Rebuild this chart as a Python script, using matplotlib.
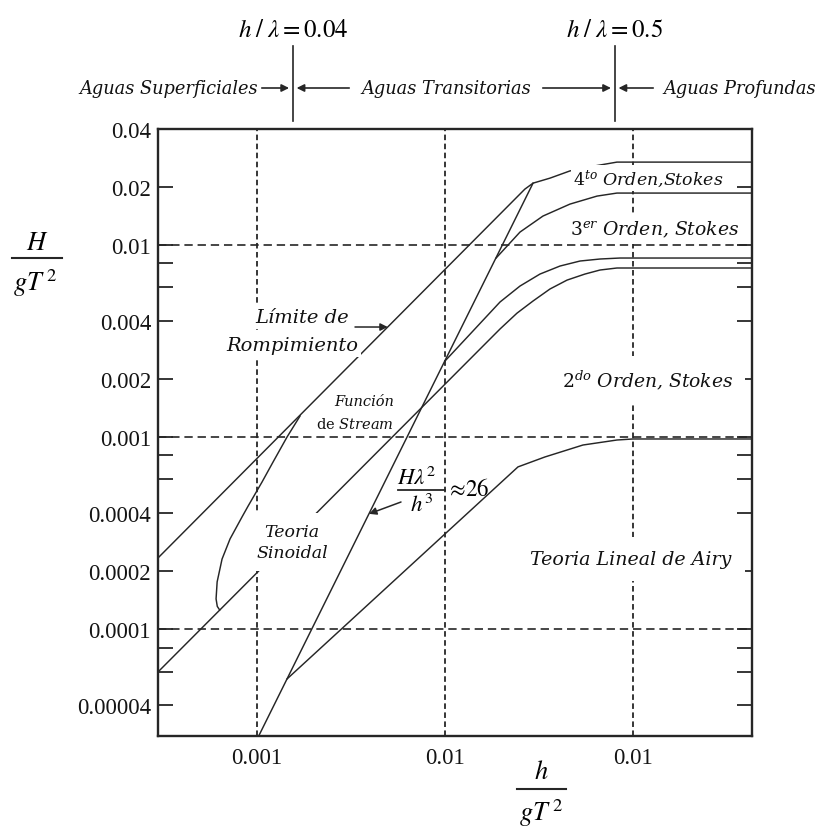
import matplotlib
matplotlib.use('Agg')
import matplotlib.pyplot as plt
from matplotlib.ticker import NullFormatter, NullLocator
from matplotlib.lines import Line2D
from matplotlib.patches import FancyArrowPatch
import matplotlib.transforms as mtransforms

plt.rcParams['mathtext.fontset'] = 'custom'
plt.rcParams['mathtext.rm'] = 'DejaVu Serif'
plt.rcParams['mathtext.it'] = 'DejaVu Serif:italic'
plt.rcParams['mathtext.bf'] = 'DejaVu Serif:bold'
plt.rcParams['lines.scale_dashes'] = False

# ---------------- data ----------------
x_limits = [2.97e-4, 0.43]
y_limits = [2.77e-5, 0.04]

xtick_vals = [0.001, 0.01, 0.1]
xtick_text = ['0.001', '0.01', '0.01']
ytick_vals = [0.04, 0.02, 0.01, 0.004, 0.002, 0.001, 0.0004, 0.0002, 0.0001, 0.00004]
ytick_text = ['0.04', '0.02', '0.01', '0.004', '0.002', '0.001', '0.0004', '0.0002', '0.0001', '0.00004']
yminor_vals = [0.008, 0.006, 0.0008, 0.0006, 0.00008, 0.00006]
grid_y = [0.01, 0.001, 0.0001]
grid_x = [0.001, 0.01, 0.1]

shallow_limit = 0.00155   # h/lambda = 0.04
deep_limit = 0.08         # h/lambda = 0.5

# Limite de rompimiento
breaking_x = [2.97e-4, 0.0266, 0.0294, 0.0362, 0.0462, 0.0613, 0.0822, 0.43]
breaking_y = [2.34e-4, 0.01946, 0.0209, 0.0222, 0.0242, 0.0256, 0.0269, 0.0269]

# H lambda^2 / h^3 ~ 26
ursell_x = [0.00102, 0.0294]
ursell_y = [2.77e-5, 0.0209]

# 4to / 3er orden Stokes
stokes4_x = [0.0187, 0.02506, 0.0332, 0.0462, 0.0644, 0.0822, 0.43]
stokes4_y = [0.00852, 0.01163, 0.01409, 0.01626, 0.0179, 0.01856, 0.01856]

# 3er orden Stokes (lower boundary)
stokes3_x = [0.01, 0.01962, 0.02506, 0.0320, 0.0409, 0.0523, 0.0668, 0.0853, 0.43]
stokes3_y = [0.00248, 0.00503, 0.00609, 0.00703, 0.00774, 0.00822, 0.00842, 0.00852, 0.00852]

# Sinoidal / 2do orden boundary
stokes2_x = [2.974e-4, 0.01962, 0.02415, 0.0294, 0.0362, 0.0446, 0.0555, 0.0668, 0.0822, 0.43]
stokes2_y = [5.975e-5, 0.00364, 0.0044, 0.00509, 0.00588, 0.00654, 0.00703, 0.00738, 0.00756, 0.00756]

# Teoria lineal de Airy boundary
airy_x = [0.001444, 0.02445, 0.034, 0.0542, 0.0822, 0.1, 0.43]
airy_y = [5.49e-5, 0.000697, 0.000785, 0.000906, 0.000962, 0.000974, 0.000974]

# Funcion de Stream boundary
stream_x = [0.001693, 0.001444, 0.001216, 0.001063, 0.000896, 0.000832, 0.000718,
            0.000651, 0.000613, 0.000605, 0.000614, 0.000632]
stream_y = [0.001283, 0.000998, 0.000739, 0.000582, 0.000436, 0.000383, 0.000294,
            0.000231, 0.0001757, 0.0001433, 0.000131, 0.0001255]

# ---------------- figure ----------------
W, H = 821, 828
fig = plt.figure(figsize=(W / 100, H / 100), dpi=100)
ax = fig.add_axes([158 / W, 1 - 737 / H, (752 - 158) / W, (737 - 130) / H])
ax.set_xscale('log')
ax.set_yscale('log')
ax.set_xlim(x_limits)
ax.set_ylim(y_limits)

def P(x, y):
    return (x / W, 1 - y / H)

LC = '#262626'
LW = 1.05

for gy in grid_y:
    ax.axhline(gy, color=LC, lw=1.2, dashes=(6.0, 3.5), zorder=1)
for gx in grid_x:
    ax.axvline(gx, color=LC, lw=1.3, dashes=(4.0, 2.5), zorder=1)

for xs, ys in [(breaking_x, breaking_y), (ursell_x, ursell_y), (stokes4_x, stokes4_y),
               (stokes3_x, stokes3_y), (stokes2_x, stokes2_y), (airy_x, airy_y),
               (stream_x, stream_y)]:
    ax.plot(xs, ys, color=LC, lw=LW, zorder=2, solid_joinstyle='round')

# ticks
ax.set_yticks(ytick_vals, labels=ytick_text)
ax.set_yticks(yminor_vals, minor=True)
ax.yaxis.set_minor_formatter(NullFormatter())
ax.set_xticks(xtick_vals, labels=xtick_text)
ax.xaxis.set_minor_locator(NullLocator())
ax.tick_params(axis='y', which='both', direction='in', length=10.5, width=1.3,
               left=True, right=True, labelleft=True, pad=5, color=LC)
ax.tick_params(axis='x', which='both', length=0, pad=8)
for lab in ax.get_xticklabels() + ax.get_yticklabels():
    lab.set_fontfamily('Liberation Serif')
    lab.set_fontsize(16.5)
    lab.set_color('#151515')
for sp in ax.spines.values():
    sp.set_linewidth(1.7)
    sp.set_color(LC)

# axis labels as fractions
fig.text(*P(37, 243), r'$H$', ha='center', va='center', fontsize=19, math_fontfamily='stix')
fig.add_artist(Line2D([12 / W, 62 / W], [1 - 259 / H] * 2, color=LC, lw=1.5))
fig.text(*P(35, 283), r'$gT^{\,2}$', ha='center', va='center', fontsize=19, math_fontfamily='stix')

fig.text(*P(541, 772), r'$h$', ha='center', va='center', fontsize=19, math_fontfamily='stix')
fig.add_artist(Line2D([517 / W, 566 / W], [1 - 790 / H] * 2, color=LC, lw=1.5))
fig.text(*P(541, 813), r'$gT^{\,2}$', ha='center', va='center', fontsize=19, math_fontfamily='stix')

# top annotations
blend = mtransforms.blended_transform_factory(ax.transData, fig.transFigure)
for xv in [shallow_limit, deep_limit]:
    fig.add_artist(Line2D([xv, xv], [1 - 47 / H, 1 - 122 / H], transform=blend, color=LC, lw=1.2))
xs_px = ax.transData.transform((shallow_limit, 1e-3))[0]
xd_px = ax.transData.transform((deep_limit, 1e-3))[0]
fig.text(*P(xs_px, 30), r'$h\;/\;\lambda = 0.04$', ha='center', va='center', fontsize=18,
         math_fontfamily='stix')
fig.text(*P(xd_px, 30), r'$h\;/\;\lambda = 0.5$', ha='center', va='center', fontsize=18,
         math_fontfamily='stix')

ay = 89
for (a, b) in [(259, xs_px - 1), (352, xs_px + 1), (540, xd_px - 1), (656, xd_px + 1)]:
    fig.add_artist(FancyArrowPatch(P(a, ay), P(b, ay), transform=fig.transFigure,
                                   arrowstyle='-|>', mutation_scale=11, lw=1.2, color=LC))

ital = dict(family='DejaVu Serif', style='italic', color='#111111')
fig.text(*P(258, ay), 'Aguas Superficiales', ha='right', va='center', fontsize=12.8, **ital)
fig.text(*P(446, ay), 'Aguas Transitorias', ha='center', va='center', fontsize=12.8, **ital)
fig.text(*P(663, ay), 'Aguas Profundas', ha='left', va='center', fontsize=12.8, **ital)

wbox = dict(facecolor='white', edgecolor='none', boxstyle='square,pad=0.15')

fig.text(*P(302, 318), 'Límite de', ha='center', va='center', fontsize=14, bbox=wbox, **ital)
fig.text(*P(292, 346), 'Rompimiento', ha='center', va='center', fontsize=14, bbox=wbox, **ital)

fig.text(*P(364, 402), 'Función', ha='center', va='center', fontsize=10.5, **ital)
fig.text(*P(355, 425), 'de $Stream$', ha='center', va='center', fontsize=10.5,
         family='DejaVu Serif', color='#111111')

fig.text(*P(292, 543), 'Teoria\nSinoidal', ha='center', va='center', fontsize=12.5,
         linespacing=1.25, bbox=dict(facecolor='white', edgecolor='none',
                                     boxstyle='square,pad=0.6'), **ital)

fig.text(*P(648, 179), '$4^{to}$ Orden,Stokes', ha='center', va='center', fontsize=12.5,
         bbox=dict(facecolor='white', edgecolor='none', boxstyle='square,pad=0.12'), **ital)
fig.text(*P(655, 230), '$3^{er}$ Orden, Stokes', ha='center', va='center', fontsize=13.5,
         bbox=dict(facecolor='white', edgecolor='none', boxstyle='square,pad=0.25'), **ital)
fig.text(*P(648, 380), '$2^{do}$ Orden, Stokes', ha='center', va='center', fontsize=13.5,
         bbox=dict(facecolor='white', edgecolor='none', boxstyle='square,pad=0.6'), **ital)
fig.text(*P(631, 560), 'Teoria Lineal de Airy', ha='center', va='center', fontsize=13.7,
         bbox=dict(facecolor='white', edgecolor='none', boxstyle='square,pad=0.7'), **ital)

# Ursell label
fig.text(*P(417, 478), r'$H\lambda^{2}$', ha='center', va='center', fontsize=16.5,
         math_fontfamily='stix')
fig.add_artist(Line2D([398 / W, 445 / W], [1 - 491 / H] * 2, color=LC, lw=1.3))
fig.text(*P(421, 505), r'$h^{3}$', ha='center', va='center', fontsize=16.5, math_fontfamily='stix')
fig.text(*P(446, 490), r'$\approx\!26$', ha='left', va='center', fontsize=16.5, math_fontfamily='stix')

# arrows to curves
ax.annotate('', xy=(0.00394, 0.000397), xycoords='data', xytext=(401, H - 503),
            textcoords='figure pixels',
            arrowprops=dict(arrowstyle='-|>', color=LC, lw=1.1, mutation_scale=11,
                            shrinkA=0, shrinkB=0))
ax.annotate('', xy=(0.00496, 0.003726), xycoords='data', xytext=(355, H - 328),
            textcoords='figure pixels',
            arrowprops=dict(arrowstyle='-|>', color=LC, lw=1.1, mutation_scale=11,
                            shrinkA=0, shrinkB=0))

fig.savefig('out.png', dpi=100)
